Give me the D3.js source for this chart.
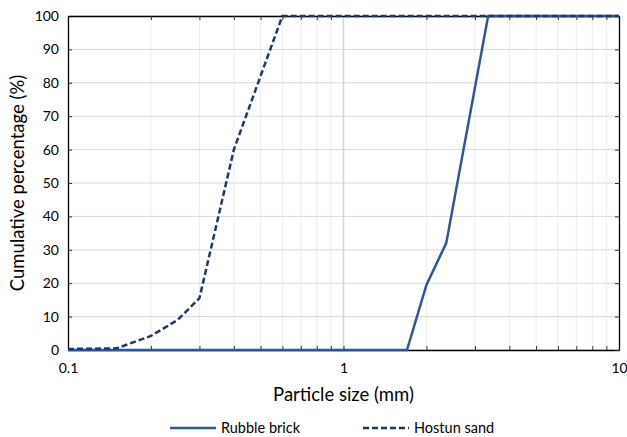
<!DOCTYPE html>
<html>
<head>
<meta charset="utf-8">
<script src="https://cdn.jsdelivr.net/npm/d3@7"></script>
<style>
  body { margin: 0; background: #fff; }
  svg { font-family: Lato, "Open Sans", sans-serif; }
</style>
</head>
<body>
<div id="chart"></div>
<script>
// particle size (mm) and cumulative passing (%)
const rubbleSize = [0.1, 1.7, 2.0, 2.36, 3.35, 10]
const rubblePct  = [0, 0, 19.5, 32, 100, 100]
const hostunSize = [0.1, 0.15, 0.2, 0.25, 0.3, 0.4, 0.6, 10]
const hostunPct  = [0.3, 0.5, 4.2, 9, 15.5, 60, 100, 100]
const xTicks = [0.1, 1, 10]
const yTicks = [0, 10, 20, 30, 40, 50, 60, 70, 80, 90, 100]
const seriesNames = ["Rubble brick", "Hostun sand"]

const width = 627, height = 437
const margin = {top: 16, right: 8, bottom: 87, left: 68}
const boundedWidth = width - margin.left - margin.right
const boundedHeight = height - margin.top - margin.bottom

const svg = d3.select("#chart").append("svg")
  .attr("width", width)
  .attr("height", height)

const bounds = svg.append("g")
  .attr("transform", `translate(${margin.left},${margin.top})`)

const x = d3.scaleLog().domain([0.1, 10]).range([0, boundedWidth])
const y = d3.scaleLinear().domain([0, 100]).range([boundedHeight, 0])

// minor log positions
const minor = []
for (let d = 0.1; d < 10; d *= 10)
  for (let k = 2; k <= 9; k++) minor.push(+(d * k).toFixed(3))

// grid
bounds.append("g").selectAll("line").data(minor).join("line")
  .attr("x1", d => x(d)).attr("x2", d => x(d))
  .attr("y1", 0).attr("y2", boundedHeight)
  .attr("stroke", "#ececec").attr("stroke-width", 1)

bounds.append("g").selectAll("line").data(yTicks).join("line")
  .attr("x1", 0).attr("x2", boundedWidth)
  .attr("y1", d => y(d)).attr("y2", d => y(d))
  .attr("stroke", "#d9d9d9").attr("stroke-width", 1)

bounds.append("line")
  .attr("x1", x(1)).attr("x2", x(1))
  .attr("y1", 0).attr("y2", boundedHeight)
  .attr("stroke", "#d4d4d4").attr("stroke-width", 1.5)

// axes (ticks pointing inward on all four sides)
const xAxis = d3.axisBottom(x).tickValues(xTicks.concat(minor))
  .tickSize(-4).tickSizeOuter(0)
  .tickFormat(d => xTicks.includes(d) ? d3.format("")(d) : "")
const yAxis = d3.axisLeft(y).tickValues(yTicks).tickSize(-4).tickSizeOuter(0)

const gx = bounds.append("g").attr("transform", `translate(0,${boundedHeight})`).call(xAxis)
const gy = bounds.append("g").call(yAxis)
const gxTop = bounds.append("g").call(d3.axisTop(x).tickValues(minor).tickSize(-4).tickSizeOuter(0).tickFormat(""))
const gyRight = bounds.append("g").attr("transform", `translate(${boundedWidth},0)`)
  .call(d3.axisRight(y).tickValues(yTicks).tickSize(-4).tickSizeOuter(0).tickFormat(""))

;[gx, gy, gxTop, gyRight].forEach(g => {
  g.select(".domain").attr("stroke", "#000").attr("stroke-width", 1.3)
  g.selectAll(".tick line").attr("stroke", "#333").attr("stroke-width", 1)
})
gx.selectAll(".tick text").attr("font-size", 14).attr("fill", "#000")
  .attr("font-family", "Lato").attr("y", 13).attr("dy", "0.71em")
gy.selectAll(".tick text").attr("font-size", 14).attr("fill", "#000")
  .attr("font-family", "Lato").attr("x", -9)

// lines
const line = d3.line().x(d => x(d[0])).y(d => y(d[1]))
const rubble = rubbleSize.map((s, i) => [s, rubblePct[i]])
const hostun = hostunSize.map((s, i) => [s, hostunPct[i]])

bounds.append("path").datum(rubble)
  .attr("d", line).attr("fill", "none")
  .attr("stroke", "#2f55a0").attr("stroke-width", 2.5)

bounds.append("path").datum(hostun)
  .attr("d", line).attr("fill", "none")
  .attr("stroke", "#1f3864").attr("stroke-width", 2.5)
  .attr("stroke-dasharray", "6,3")

// axis titles
svg.append("text")
  .attr("x", margin.left + boundedWidth / 2)
  .attr("y", 401)
  .attr("text-anchor", "middle")
  .attr("font-size", 18.5)
  .text("Particle size (mm)")

svg.append("text")
  .attr("transform", `translate(24,${margin.top + boundedHeight / 2}) rotate(-90)`)
  .attr("text-anchor", "middle")
  .attr("font-size", 18.5)
  .text("Cumulative percentage (%)")

// legend
const legend = svg.append("g").attr("transform", "translate(0,428)")
const legendX = [170, 363]
seriesNames.forEach((name, i) => {
  legend.append("line")
    .attr("x1", legendX[i]).attr("x2", legendX[i] + 46)
    .attr("stroke", i === 0 ? "#2f55a0" : "#1f3864")
    .attr("stroke-width", 2.5)
    .attr("stroke-dasharray", i === 0 ? null : "6,3")
  legend.append("text")
    .attr("x", legendX[i] + 51).attr("y", 5)
    .attr("font-size", 14.5)
    .text(name)
})
</script>
</body>
</html>
